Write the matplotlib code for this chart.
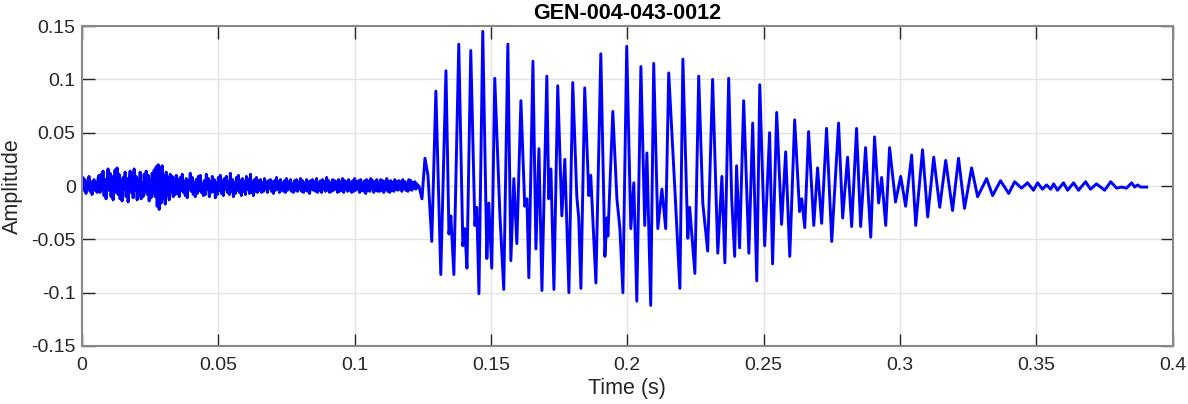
import numpy as np
from matplotlib import pyplot as plt

plt.rcParams['font.family'] = ['Liberation Sans', 'DejaVu Sans']

#background noise before the onset, amplitude read as a band off the picture
noise_end = 0.1232
noise = [0.002, 0.008, -0.004, 0.006, -0.007, 0.003, -0.002, 0.009, -0.005, 0.004,
         -0.008, -0.002, 0.006, -0.004, 0.003, -0.006, 0.007, 0.010,
         -0.006, 0.011, -0.003, 0.014, -0.009, 0.006, -0.012, 0.004, 0.016, -0.004,
         0.012, -0.010, 0.009, -0.013, 0.002, 0.015, -0.006, 0.017, -0.008, 0.011,
         -0.012, 0.005, -0.014, 0.008, -0.003, 0.013, -0.010, 0.007, -0.015, 0.004,
         0.014, -0.006, 0.012, -0.011, 0.016, -0.004, 0.009, -0.013, 0.006, -0.009,
         0.013, -0.012, 0.003, -0.010, 0.011, -0.005, 0.014, -0.008, 0.010, -0.014,
         0.006, -0.011, 0.012, -0.007, 0.015, -0.010, 0.018, -0.019, 0.020, -0.022,
         0.017, -0.016, 0.019, -0.012, 0.010, -0.017, 0.013, -0.009, 0.008, -0.013,
         0.011, -0.006, 0.009, -0.010, 0.007, -0.008,
         0.010, -0.007, 0.006, -0.010, 0.008, -0.004, 0.011, -0.006, 0.004, -0.009,
         0.007, -0.011, 0.005, -0.003, 0.012, -0.005, 0.008, -0.008, 0.003, -0.010,
         0.006, -0.007, 0.009, -0.004, 0.010, -0.006, 0.002, -0.009, 0.005, -0.008,
         0.011, -0.003, 0.007, -0.010, 0.004, -0.006, 0.009, -0.005, 0.006, -0.011,
         0.003, -0.008, 0.008, -0.004, 0.010, -0.007, 0.005, -0.009, 0.007, -0.003,
         0.009, -0.006, 0.004, -0.008, 0.012, -0.005, 0.006, -0.010, 0.003, -0.007,
         0.008, -0.004, 0.010, -0.006, 0.005, -0.009, 0.007, -0.005, 0.004, -0.008,
         0.009, -0.003, 0.006, -0.007, 0.011, -0.006, 0.004, -0.009, 0.006, -0.005,
         0.008, -0.006,
         0.005, -0.004, 0.006, -0.006, 0.003, -0.005, 0.007, -0.003, 0.004, -0.006,
         0.005, -0.002, 0.006, -0.005, 0.004, -0.007, 0.005, -0.004, 0.008, -0.003,
         0.004, -0.006, 0.006, -0.004, 0.003, -0.005, 0.005, -0.006, 0.007, -0.004,
         0.004, -0.003, 0.006, -0.005, 0.002, -0.006, 0.005, -0.004, 0.006, -0.005,
         0.004, -0.003, 0.007, -0.005, 0.005, -0.006, 0.003, -0.004, 0.006, -0.005,
         0.004, -0.007, 0.005, -0.003, 0.006, -0.004, 0.004, -0.005, 0.007, -0.006,
         0.003, -0.004, 0.005, -0.006, 0.006, -0.003, 0.004, -0.005, 0.008, -0.004,
         0.005, -0.006, 0.003, -0.005, 0.006, -0.004, 0.005, -0.003, 0.004, -0.006,
         0.006, -0.005, 0.004, -0.004, 0.007, -0.006, 0.005, -0.003, 0.004, -0.005,
         0.006, -0.004, 0.003, -0.006, 0.005, -0.005, 0.007, -0.004, 0.004, -0.003,
         0.005, -0.006, 0.006, -0.004, 0.003, -0.005, 0.005, -0.007, 0.006, -0.004,
         0.004, -0.005, 0.007, -0.003, 0.005, -0.006, 0.004, -0.004, 0.006, -0.005,
         0.003, -0.005, 0.006, -0.004, 0.005, -0.006, 0.004, -0.003, 0.007, -0.005,
         0.004, -0.006, 0.005, -0.004, 0.003, -0.005, 0.006, -0.003, 0.004, -0.004,
         0.005, -0.003, 0.004, -0.005, 0.006, -0.002, 0.004, -0.004, 0.003, -0.005,
         0.006, -0.003, 0.005, -0.004, 0.003, -0.002, 0.004, -0.003, 0.002, -0.001]

#peaks and troughs of the burst (time s, amplitude)
burst_t = [0.1236, 0.1247, 0.1258, 0.1269, 0.1283, 0.1298, 0.1316, 0.1335, 0.1346, 0.1353,
           0.1364, 0.1382, 0.1397, 0.1404, 0.1412, 0.1426, 0.1441, 0.1448, 0.1456, 0.1470,
           0.1485, 0.1492, 0.1503, 0.1514, 0.1533, 0.1547, 0.1562, 0.1573, 0.1584, 0.1595,
           0.1610, 0.1624, 0.1632, 0.1639, 0.1654, 0.1665, 0.1676, 0.1687, 0.1705, 0.1712,
           0.1720, 0.1731, 0.1745, 0.1760, 0.1771, 0.1786, 0.1800, 0.1815, 0.1822, 0.1830,
           0.1844, 0.1859, 0.1866, 0.1885, 0.1903, 0.1918, 0.1925, 0.1929, 0.1947, 0.1962,
           0.1973, 0.1984, 0.1998, 0.2013, 0.2024, 0.2035, 0.2050, 0.2064, 0.2072, 0.2086,
           0.2097, 0.2112, 0.2127, 0.2141, 0.2152, 0.2174, 0.2193, 0.2204, 0.2222, 0.2229,
           0.2248, 0.2262, 0.2277, 0.2295, 0.2313, 0.2332, 0.2347, 0.2358, 0.2372, 0.2383,
           0.2394, 0.2401, 0.2412, 0.2427, 0.2446, 0.2460, 0.2475, 0.2486, 0.2504, 0.2522,
           0.2533, 0.2548, 0.2566, 0.2581, 0.2596, 0.2614, 0.2632, 0.2640, 0.2651, 0.2665,
           0.2684, 0.2698, 0.2713, 0.2731, 0.2750, 0.2775, 0.2790, 0.2808, 0.2823, 0.2841,
           0.2856, 0.2874, 0.2893, 0.2907, 0.2922, 0.2933, 0.2948, 0.2962, 0.2984, 0.3003,
           0.3021, 0.3043, 0.3058, 0.3083, 0.3102, 0.3124, 0.3146, 0.3168, 0.3193, 0.3215,
           0.3237, 0.3263, 0.3285, 0.3318, 0.3340, 0.3369, 0.3399, 0.3421, 0.3446, 0.3468,
           0.3490, 0.3505, 0.3523, 0.3538, 0.3553, 0.3564, 0.3578, 0.3600, 0.3615, 0.3637,
           0.3655, 0.3681, 0.3699, 0.3721, 0.3751, 0.3773, 0.3795, 0.3813, 0.3831, 0.3850,
           0.3861, 0.3872, 0.3883, 0.3905]
burst_a = [0.000, -0.012, 0.026, 0.010, -0.052, 0.089, -0.083, 0.108, -0.045, -0.028,
           -0.083, 0.133, -0.056, -0.040, -0.077, 0.127, -0.037, -0.020, -0.101, 0.145,
           -0.068, -0.016, -0.077, 0.101, -0.028, -0.097, 0.133, -0.070, 0.007, -0.054,
           0.080, -0.019, -0.012, -0.086, 0.117, -0.059, 0.035, -0.098, 0.103, -0.012,
           0.016, -0.097, 0.094, -0.028, 0.025, -0.100, 0.097, -0.010, -0.030, -0.096,
           0.092, -0.009, 0.010, -0.091, 0.124, -0.066, -0.030, -0.047, 0.070, -0.012,
           -0.040, -0.100, 0.131, -0.040, 0.003, -0.108, 0.112, -0.037, 0.031, -0.112,
           0.115, -0.040, -0.003, -0.040, 0.106, 0.000, -0.096, 0.119, -0.049, -0.020,
           -0.082, 0.103, -0.016, -0.061, 0.100, -0.063, 0.009, -0.072, 0.101, -0.012,
           -0.066, 0.019, -0.058, 0.080, -0.063, 0.059, -0.089, 0.095, -0.056, 0.050,
           -0.073, 0.069, -0.036, 0.032, -0.066, 0.062, -0.024, -0.012, -0.039, 0.051,
           -0.037, 0.017, -0.035, 0.054, -0.052, 0.059, -0.030, 0.027, -0.038, 0.054,
           -0.038, 0.036, -0.048, 0.046, -0.016, 0.008, -0.037, 0.036, -0.015, 0.009,
           -0.019, 0.029, -0.037, 0.034, -0.029, 0.027, -0.020, 0.024, -0.023, 0.026,
           -0.021, 0.017, -0.010, 0.007, -0.009, 0.005, -0.007, 0.004, -0.002, 0.003,
           -0.004, 0.003, -0.003, 0.001, -0.003, 0.002, -0.004, 0.003, -0.004, 0.003,
           -0.004, 0.004, -0.003, 0.002, -0.004, 0.004, -0.002, -0.001, -0.002, 0.003,
           -0.001, 0.001, -0.001, -0.001]

t = np.concatenate([np.linspace(0, noise_end, len(noise)), burst_t])
y = np.concatenate([noise, burst_a])

fig = plt.figure(figsize=(11.88, 4.04), dpi=100)
ax = fig.add_axes([0.069, 0.1436, 0.918, 0.792])
ax.plot(t, y, color=(0, 0, 1), lw=2.1, solid_joinstyle='round')

ax.set_xlim(0, 0.4)
ax.set_ylim(-0.15, 0.15)
ax.set_xticks(np.arange(0, 0.41, 0.05))
ax.set_yticks(np.arange(-0.15, 0.151, 0.05))
ax.set_xticklabels(['0', '0.05', '0.1', '0.15', '0.2', '0.25', '0.3', '0.35', '0.4'])
ax.set_yticklabels(['-0.15', '-0.1', '-0.05', '0', '0.05', '0.1', '0.15'])

ax.grid(True, color='#e3e3e3', lw=1)
ax.set_axisbelow(True)
for s in ax.spines.values():
    s.set_color('#888888')
    s.set_linewidth(1.5)
ax.tick_params(direction='in', length=9, width=1, color='#262626',
               top=True, right=True, labelsize=14, labelcolor='#262626')
ax.tick_params(axis='x', pad=8)
ax.tick_params(axis='y', pad=4.5)

ax.set_xlabel('Time (s)', fontsize=15.5, color='#262626', labelpad=3)
ax.set_ylabel('Amplitude', fontsize=15.5, color='#262626', labelpad=6)
ax.set_title('GEN-004-043-0012', fontsize=15.5, fontweight='bold', pad=5)

fig.savefig('out.png', dpi=100)
